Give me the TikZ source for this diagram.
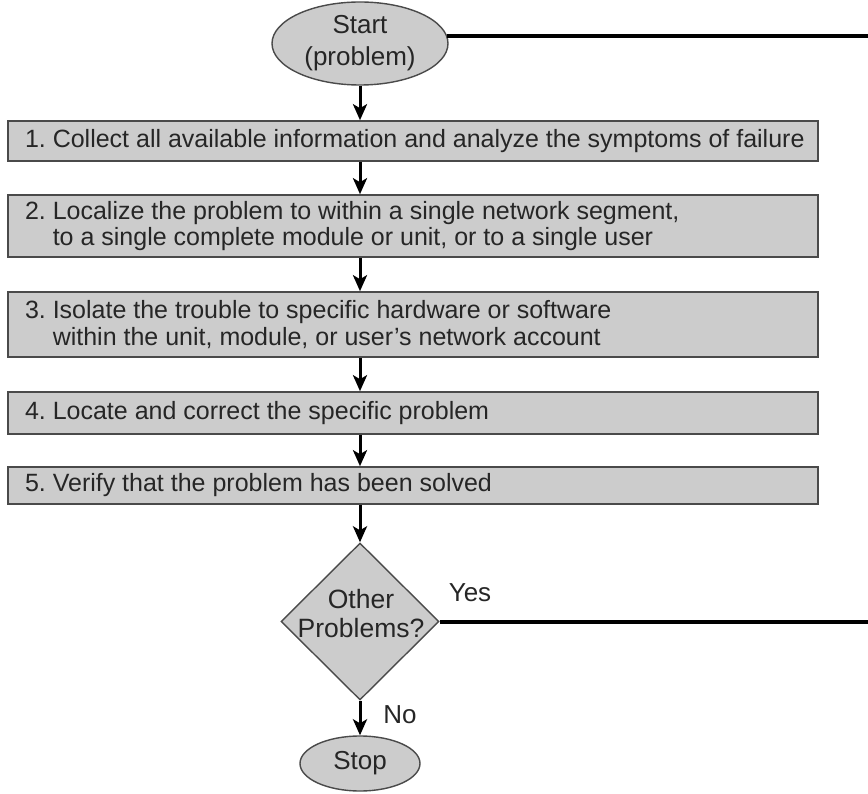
\documentclass[tikz,border=0pt]{standalone}
\usepackage{fontspec}
\setmainfont{Liberation Sans}
\usetikzlibrary{shapes.geometric,arrows.meta}
\definecolor{boxfill}{HTML}{CCCCCC}
\definecolor{boxline}{HTML}{4A4A4A}
\definecolor{ink}{HTML}{262626}
\frenchspacing
\begin{document}
\begin{tikzpicture}[x=1pt,y=-1pt,
  every node/.style={font=\fontsize{25}{26}\selectfont, text=ink},
  stepbox/.style={draw=boxline, line width=1.6pt, fill=boxfill, rectangle,
    minimum width=810pt, text width=776pt, inner xsep=17pt, inner ysep=0pt, align=flush left},
  term/.style={draw=boxline, line width=1.4pt, fill=boxfill, ellipse,
    inner sep=0pt, align=center},
  flow/.style={line width=3pt, -{Stealth[length=16pt,width=14pt,inset=4pt]}},
  exitline/.style={line width=4pt},
]
\useasboundingbox (0,0) rectangle (868,794);

% terminals and process steps
\node[term, minimum width=176pt, minimum height=83pt,
      font=\fontsize{26}{32}\selectfont] (start) at (360,43.5) {Start\\(problem)};
\node[stepbox, minimum height=40pt] (s1) at (413,141)
  {\mbox{1. Collect all available information and analyze the symptoms of failure}};
\node[stepbox, minimum height=62pt, font=\fontsize{25}{25.5}\selectfont] (s2) at (413,226)
  {2. Localize the problem to within a single network segment,\\
   \hphantom{2.\ }to a single complete module or unit, or to a single user};
\node[stepbox, minimum height=65pt, font=\fontsize{25}{27}\selectfont] (s3) at (413,324.5)
  {3. Isolate the trouble to specific hardware or software\\
   \hphantom{3.\ }within the unit, module, or user's network account};
\node[stepbox, minimum height=42pt] (s4) at (413,413)
  {4. Locate and correct the specific problem};
\node[stepbox, minimum height=37pt] (s5) at (413,485.5)
  {5. Verify that the problem has been solved};

% decision
\node[diamond, draw=boxline, line width=1.4pt, fill=boxfill,
      minimum width=158pt, minimum height=157pt, inner sep=0pt] (dec) at (360,621.5) {};
\node[align=center, font=\fontsize{26.5}{29}\selectfont] (dectext) at (361,614) {Other\\Problems?};
\node[term, minimum width=120pt, minimum height=55pt, font=\fontsize{26}{28}\selectfont]
  (stop) at (360,763.5) {Stop};

% branch labels
\node[font=\fontsize{26}{28}\selectfont] (yes) at (470,593) {Yes};
\node[font=\fontsize{26}{28}\selectfont] (no) at (400,715) {No};

% loose ends at the right border
\coordinate (edge1) at (868,35);
\coordinate (edge2) at (868,622);

% connectors
\draw[flow] (start.south) -- (start.south |- s1.north);
\draw[flow] (s1.south -| start) -- (s2.north -| start);
\draw[flow] (s2.south -| start) -- (s3.north -| start);
\draw[flow] (s3.south -| start) -- (s4.north -| start);
\draw[flow] (s4.south -| start) -- (s5.north -| start);
\draw[flow] (s5.south -| dec) -- (dec.north);
\draw[flow] (dec.south) -- (stop.north);
\draw[exitline] (start.5.6) -- (start.5.6 -| edge1);
\draw[exitline] (dec.east) -- (dec.east -| edge2);
\end{tikzpicture}
\end{document}
